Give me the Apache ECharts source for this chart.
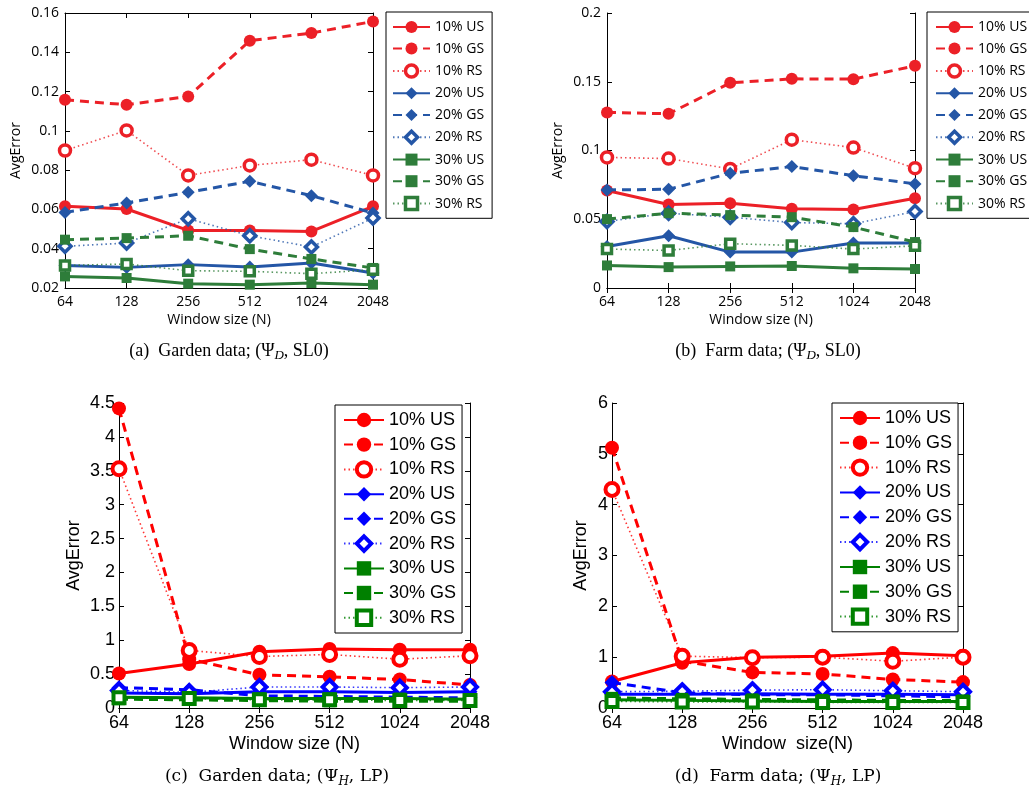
<!DOCTYPE html>
<html><head><meta charset="utf-8">
<script src="https://cdn.jsdelivr.net/npm/echarts@6/dist/echarts.min.js"></script>
<style>html,body{margin:0;padding:0;background:#fff}#c{width:1029px;height:792px}</style>
</head><body><div id="c"></div>
<script>
const categories = ['64','128','256','512','1024','2048'];
const seriesNames = ['10% US','10% GS','10% RS','20% US','20% GS','20% RS','30% US','30% GS','30% RS'];
// (a) Garden data; (Psi_D, SL0)
const gardenSL0 = [
  [0.0616,0.0602,0.0493,0.0493,0.0488,0.0616],
  [0.1158,0.1133,0.1175,0.1459,0.1498,0.1557],
  [0.0900,0.1002,0.0773,0.0824,0.0853,0.0773],
  [0.0315,0.0305,0.0319,0.0307,0.0327,0.0276],
  [0.0585,0.0633,0.0687,0.0743,0.0670,0.0582],
  [0.0412,0.0429,0.0553,0.0466,0.0409,0.0556],
  [0.0259,0.0251,0.0222,0.0217,0.0225,0.0217],
  [0.0446,0.0454,0.0466,0.0398,0.0348,0.0302],
  [0.0315,0.0322,0.0288,0.0285,0.0273,0.0293]
];
// (b) Farm data; (Psi_D, SL0)
const farmSL0 = [
  [0.0709,0.0607,0.0617,0.0576,0.0571,0.0653],
  [0.1277,0.1267,0.1492,0.1521,0.1519,0.1616],
  [0.0950,0.0941,0.0866,0.1079,0.1021,0.0871],
  [0.0302,0.0380,0.0261,0.0261,0.0327,0.0327],
  [0.0713,0.0718,0.0834,0.0883,0.0817,0.0757],
  [0.0484,0.0544,0.0515,0.0476,0.0467,0.0556],
  [0.0164,0.0152,0.0157,0.0160,0.0143,0.0138],
  [0.0501,0.0544,0.0530,0.0515,0.0443,0.0334],
  [0.0283,0.0273,0.0322,0.0310,0.0283,0.0307]
];
// (c) Garden data; (Psi_H, LP)
const gardenLP = [
  [0.51,0.65,0.83,0.87,0.86,0.86],
  [4.42,0.72,0.49,0.46,0.42,0.34],
  [3.53,0.85,0.76,0.79,0.72,0.77],
  [0.22,0.21,0.24,0.24,0.23,0.24],
  [0.30,0.27,0.18,0.17,0.16,0.15],
  [0.26,0.23,0.31,0.31,0.30,0.31],
  [0.16,0.15,0.14,0.14,0.14,0.13],
  [0.13,0.12,0.11,0.10,0.10,0.10],
  [0.15,0.14,0.12,0.12,0.11,0.11]
];
// (d) Farm data; (Psi_H, LP)
const farmLP = [
  [0.52,0.89,1.00,1.02,1.08,1.03],
  [5.12,0.92,0.70,0.67,0.56,0.51],
  [4.30,1.02,0.99,1.00,0.92,1.00],
  [0.27,0.27,0.28,0.27,0.27,0.26],
  [0.50,0.30,0.26,0.26,0.24,0.22],
  [0.32,0.33,0.35,0.36,0.34,0.32],
  [0.16,0.15,0.14,0.13,0.13,0.13],
  [0.20,0.18,0.17,0.16,0.15,0.15],
  [0.13,0.12,0.12,0.11,0.11,0.11]
];
const yMin = [0.02, 0, 0, 0];
const yMax = [0.16, 0.2, 4.5, 6];
const yStep = [0.02, 0.05, 0.5, 1];
const xNames = ['Window size (N)', 'Window size (N)', 'Window size (N)', 'Window  size(N)'];

const topColors = ['#ec2027', '#2456a6', '#2e7d3a'];
const botColors = ['#ff0000', '#0000ff', '#008000'];
const grids = [
  {left:65, top:13, width:308, height:275},
  {left:607, top:13, width:308, height:275},
  {left:119, top:403, width:351, height:305},
  {left:612, top:403, width:351, height:305}
];
const panels = [
  {p:'a', data:gardenSL0, colors:topColors, big:false},
  {p:'b', data:farmSL0, colors:topColors, big:false},
  {p:'c', data:gardenLP, colors:botColors, big:true},
  {p:'d', data:farmLP, colors:botColors, big:true}
];
const topFont = 'Open Sans', botFont = 'Liberation Sans';

const xAxis = [], yAxis = [], series = [], legend = [];
panels.forEach((pn, gi) => {
  const font = pn.big ? botFont : topFont;
  const fs = pn.big ? 18 : 14;
  xAxis.push({type:'category', gridIndex:gi, data:categories, boundaryGap:false,
    name:xNames[gi], nameLocation:'middle', nameGap: pn.big ? 27 : 25,
    nameTextStyle:{fontFamily:font, fontSize:fs, color:'#000'},
    axisLine:{lineStyle:{color:'#000', width:1}},
    axisTick:{inside:true, length:5, lineStyle:{color:'#000'}},
    axisLabel:{fontFamily:font, fontSize:fs, color:'#000', margin: pn.big ? 6 : 7},
    splitLine:{show:false}});
  yAxis.push({type:'value', gridIndex:gi, min:yMin[gi], max:yMax[gi], interval:yStep[gi],
    name:'AvgError', nameLocation:'middle',
    nameGap: gi===0||gi===1 ? 42 : (gi===2 ? 36 : 22),
    nameTextStyle:{fontFamily:font, fontSize:fs, color:'#000'},
    axisLine:{show:true, lineStyle:{color:'#000', width:1}},
    axisTick:{show:true, inside:true, length:5, lineStyle:{color:'#000'}},
    axisLabel:{fontFamily:font, fontSize:fs, color:'#000', margin: pn.big ? 4 : 6},
    splitLine:{show:false}});
});
panels.forEach((pn, gi) => {
  xAxis.push({type:'category', gridIndex:gi, data:categories, boundaryGap:false, position:'top',
    axisLine:{lineStyle:{color:'#000', width:1}},
    axisTick:{inside:true, length:5, lineStyle:{color:'#000'}},
    axisLabel:{show:false}, splitLine:{show:false}});
  yAxis.push({type:'value', gridIndex:gi, min:yMin[gi], max:yMax[gi], interval:yStep[gi], position:'right',
    axisLine:{show:true, lineStyle:{color:'#000', width:1}},
    axisTick:{show:true, inside:true, length:5, lineStyle:{color:'#000'}},
    axisLabel:{show:false}, splitLine:{show:false}});
});

const shapes = ['circle','diamond','rect'];
panels.forEach((pn, gi) => {
  pn.data.forEach((vals, i) => {
    const g = Math.floor(i/3), k = i % 3;
    const col = pn.colors[g];
    let size = g===0 ? (pn.big?14:12) : g===1 ? (pn.big?15:13) : (pn.big?12:10);
    series.push({
      name: pn.p + '#' + seriesNames[i],
      type:'line', xAxisIndex:gi, yAxisIndex:gi, data:vals,
      symbol:shapes[g], symbolSize: k===2 ? size-1 : size, showAllSymbol:true,
      lineStyle:{color:col, width: k===2 ? 1.6 : 3, type: k===0 ? 'solid' : (k===1 ? [9,6] : [1.5,3]), opacity: k===2 ? 0.8 : 1},
      itemStyle: k===2 ? {color:'#fff', borderColor:col, borderWidth: pn.big ? 4 : 3.5}
                       : {color:col, borderColor:col, borderWidth:0},
      emphasis:{disabled:true}, animation:false, z: 2 + i
    });
  });
});

const legendPos = [
  {left:386, top:12, pad:[8,8,7,6], gap:7.6, iw:37, ih:15},
  {left:927, top:12, pad:[8,8,7,8], gap:7.6, iw:37, ih:15},
  {left:335, top:405, pad:[6,6,6,8], gap:6.6, iw:40, ih:18},
  {left:832, top:403, pad:[6,6,6,7], gap:6.7, iw:40, ih:18}
];
panels.forEach((pn, gi) => {
  const L = legendPos[gi];
  legend.push({
    orient:'vertical', left:L.left, top:L.top, padding:L.pad, itemGap:L.gap,
    itemWidth:L.iw, itemHeight:L.ih, backgroundColor:'#fff',
    borderColor:'#000', borderWidth:1, borderRadius:0,
    data: seriesNames.map((n, i) => i % 3 === 2
      ? {name: pn.p + '#' + n, itemStyle:{color:'#fff', borderColor: pn.colors[Math.floor(i/3)], borderWidth: pn.big ? 4 : 3.5}}
      : {name: pn.p + '#' + n}),
    formatter: n => n.split('#')[1],
    textStyle:{fontFamily: pn.big ? botFont : topFont, fontSize: pn.big ? 18 : 14, color:'#000'},
    selectedMode:false
  });
});

function caption(x, y, label, data, sub, rest, big) {
  const fam = big ? 'DejaVu Serif' : 'Liberation Serif';
  const fs = big ? 17 : 18;
  return {type:'text', x:x, y:y, silent:true,
    style:{text:'{n|' + label + '  ' + data + ' (Ψ}{s|' + sub + '}{n|, ' + rest + ')}',
      textAlign:'center', align:'center', textVerticalAlign:'middle', verticalAlign:'middle',
      rich:{
        n:{fontFamily:fam, fontSize:fs, lineHeight:22, color:'#000'},
        s:{fontFamily:fam, fontSize: big?12:13, fontStyle:'italic', lineHeight:12, verticalAlign:'bottom', color:'#000'}
      }}};
}

const chart = echarts.init(document.getElementById('c'), null, {renderer:'canvas'});
chart.setOption({
  animation:false, backgroundColor:'#fff',
  grid: grids, xAxis: xAxis, yAxis: yAxis, series: series, legend: legend,
  graphic: [
    caption(229, 351, '(a)', 'Garden data;', 'D', 'SL0', false),
    caption(768, 351, '(b)', 'Farm data;', 'D', 'SL0', false),
    caption(277, 777, '(c)', 'Garden data;', 'H', 'LP', true),
    caption(778, 777, '(d)', 'Farm data;', 'H', 'LP', true)
  ]
});
</script></body></html>
